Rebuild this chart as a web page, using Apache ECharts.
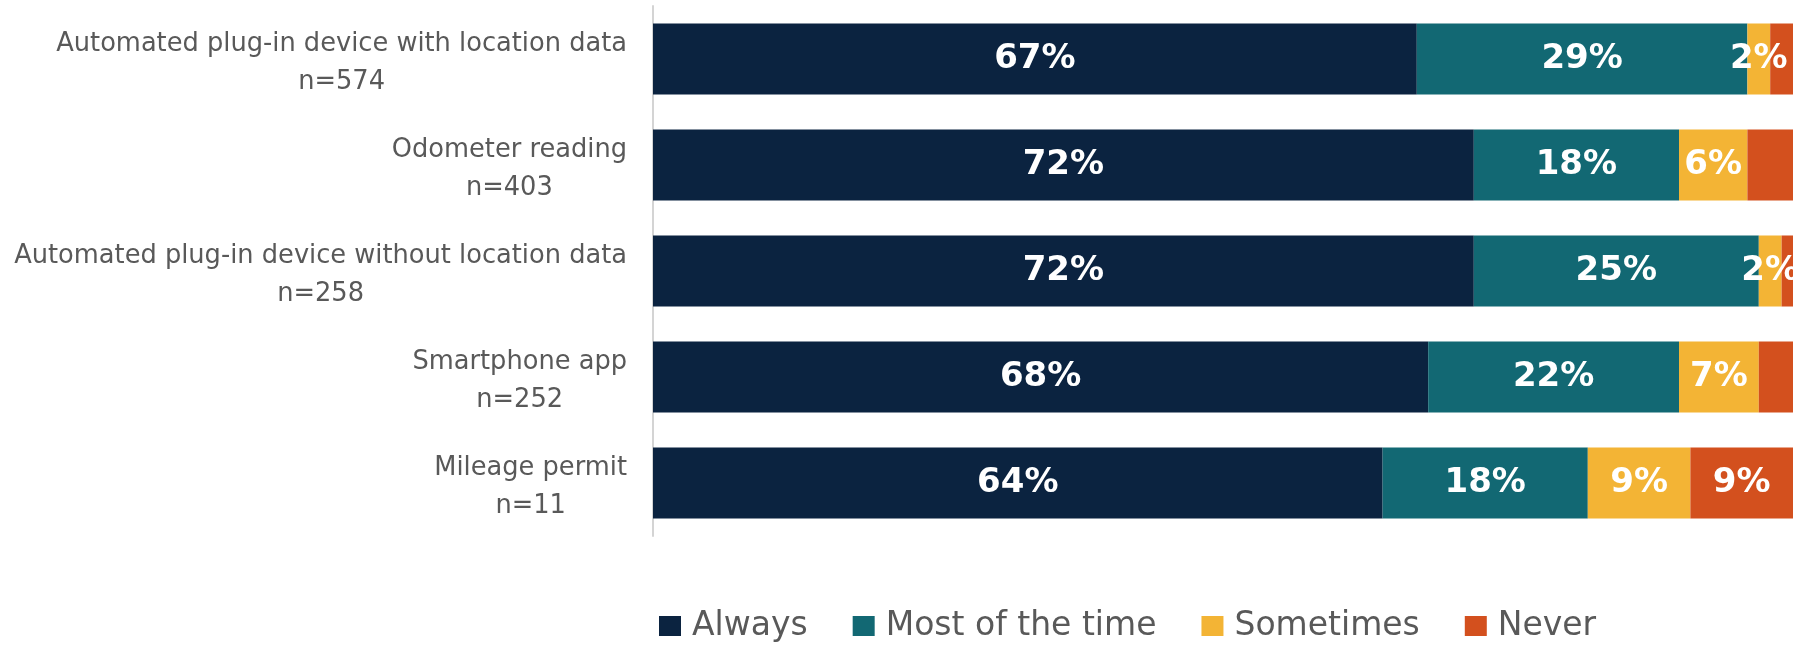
<!DOCTYPE html>
<html>
<head>
<meta charset="utf-8">
<script src="https://cdn.jsdelivr.net/npm/echarts@6/dist/echarts.min.js"></script>
<style>
  html, body { margin: 0; padding: 0; background: #ffffff; }
  #chart { width: 1799px; height: 645px; }
</style>
</head>
<body>
<div id="chart"></div>
<script>
// Tracking methods, top to bottom
const categories = [
  'Automated plug-in device with location data\nn=574',
  'Odometer reading\nn=403',
  'Automated plug-in device without location data\nn=258',
  'Smartphone app\nn=252',
  'Mileage permit\nn=11'
];

// Share of respondents (%) per response
const always      = [67, 72, 72, 68, 64];
const mostOfTime  = [29, 18, 25, 22, 18];
const sometimes   = [2, 6, 2, 7, 9];
const never       = [2, 4, 1, 3, 9];

const seriesNames = ['Always', 'Most of the time', 'Sometimes', 'Never'];
const colors = ['#0B2340', '#126873', '#F3B435', '#D3501E'];

// Small "Never" slices stay unlabelled
const minLabelled = [0, 0, 0, 5];

const labelFont = 'DejaVu Sans';

function makeSeries(name, values, idx) {
  return {
    name: name,
    type: 'bar',
    stack: 'total',
    barWidth: '67%',
    data: values,
    itemStyle: { color: colors[idx] },
    label: {
      show: true,
      position: 'inside',
      color: '#ffffff',
      fontFamily: labelFont,
      fontWeight: 'bold',
      fontSize: 34,
      formatter: p => (p.value >= minLabelled[idx] ? p.value + '%' : '')
    },
    emphasis: { disabled: true }
  };
}

const chart = echarts.init(document.getElementById('chart'));
chart.setOption({
  animation: false,
  grid: { left: 653, right: 6, top: 6, bottom: 109, containLabel: false },
  xAxis: {
    type: 'value',
    min: 0,
    max: 100,
    show: false
  },
  yAxis: {
    type: 'category',
    inverse: true,
    data: categories,
    axisLine: { show: true, lineStyle: { color: '#d4d4d4', width: 2 } },
    axisTick: { show: false },
    axisLabel: {
      color: '#595959',
      fontFamily: labelFont,
      fontSize: 25.7,
      lineHeight: 38,
      align: 'right',
      margin: 26,
      padding: [9, 0, 0, 0],
      // each line centred within the right-aligned block
      formatter: v => v.split('\n').map(s => '{c|' + s + '}').join('\n'),
      rich: {
        c: {
          align: 'center',
          color: '#595959',
          fontFamily: labelFont,
          fontSize: 25.7,
          lineHeight: 38
        }
      }
    }
  },
  legend: {
    left: 654,
    top: 603,
    itemWidth: 22,
    itemHeight: 20,
    itemGap: 45,
    icon: 'rect',
    textStyle: {
      color: '#595959',
      fontFamily: labelFont,
      fontSize: 33,
      lineHeight: 36,
      padding: [0, 0, 0, 6]
    },
    data: seriesNames
  },
  series: [
    makeSeries(seriesNames[0], always, 0),
    makeSeries(seriesNames[1], mostOfTime, 1),
    makeSeries(seriesNames[2], sometimes, 2),
    makeSeries(seriesNames[3], never, 3)
  ]
});
</script>
</body>
</html>
